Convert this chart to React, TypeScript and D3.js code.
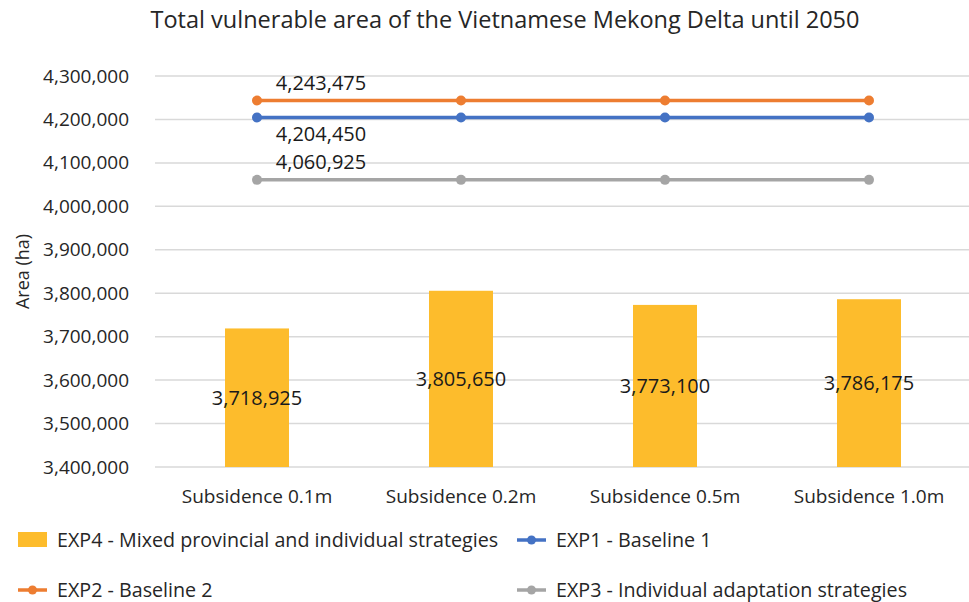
import React, { useEffect, useRef } from "react";
import * as d3 from "d3";

// chart data
const categories = ["Subsidence 0.1m", "Subsidence 0.2m", "Subsidence 0.5m", "Subsidence 1.0m"];
const exp4Values = [3718925, 3805650, 3773100, 3786175];
const exp1Values = [4204450, 4204450, 4204450, 4204450];
const exp2Values = [4243475, 4243475, 4243475, 4243475];
const exp3Values = [4060925, 4060925, 4060925, 4060925];
const yTicks = [3400000, 3500000, 3600000, 3700000, 3800000, 3900000, 4000000, 4100000, 4200000, 4300000];

const FONT = "'Open Sans', Lato, sans-serif";

export default function App() {
  const ref = useRef<SVGSVGElement>(null);

  useEffect(() => {
    const svg = d3.select(ref.current);
    svg.selectAll("*").remove();

    const width = 969;
    const left = 155, right = 971, top = 76, bottom = 467;

    const x = d3.scaleBand().domain(categories).range([left, right]);
    const y = d3.scaleLinear().domain([3400000, 4300000]).range([bottom, top]);
    const fmt = d3.format(",");

    // title
    svg.append("text")
      .attr("x", 505).attr("y", 28)
      .attr("text-anchor", "middle")
      .style("font-family", FONT).style("font-size", "23.5px").attr("fill", "#262626")
      .text("Total vulnerable area of the Vietnamese Mekong Delta until 2050");

    // gridlines
    svg.append("g").selectAll("line").data(yTicks).enter().append("line")
      .attr("x1", left).attr("x2", width)
      .attr("y1", d => y(d)).attr("y2", d => y(d))
      .attr("stroke", "#d9d9d9").attr("stroke-width", 1.5);

    // y tick labels
    svg.append("g").selectAll("text").data(yTicks).enter().append("text")
      .attr("x", 129).attr("y", d => y(d) + 6.5)
      .attr("text-anchor", "end")
      .style("font-family", FONT).style("font-size", "19px").attr("fill", "#262626")
      .text(d => fmt(d));

    // y axis title
    svg.append("text")
      .attr("transform", `translate(29,${(top + bottom) / 2}) rotate(-90)`)
      .attr("text-anchor", "middle")
      .style("font-family", FONT).style("font-size", "18px").attr("fill", "#262626")
      .text("Area (ha)");

    // x labels
    svg.append("g").selectAll("text").data(categories).enter().append("text")
      .attr("x", d => x(d)! + x.bandwidth() / 2).attr("y", 503)
      .attr("text-anchor", "middle")
      .style("font-family", FONT).style("font-size", "19px").attr("fill", "#262626")
      .text(d => d);

    // bars
    const barW = 64;
    const bars = svg.append("g");
    bars.selectAll("rect").data(exp4Values).enter().append("rect")
      .attr("x", (d, i) => x(categories[i])! + x.bandwidth() / 2 - barW / 2)
      .attr("width", barW)
      .attr("y", d => y(d))
      .attr("height", d => bottom - y(d))
      .attr("fill", "#FDBC2C");
    bars.selectAll("text").data(exp4Values).enter().append("text")
      .attr("x", (d, i) => x(categories[i])! + x.bandwidth() / 2)
      .attr("y", d => (y(d) + bottom) / 2 + 7)
      .attr("text-anchor", "middle")
      .style("font-family", FONT).style("font-size", "20px").attr("fill", "#1a1a1a")
      .text(d => fmt(d));

    // lines
    const series = [
      { values: exp3Values, color: "#A5A5A5", labelDy: -11 },
      { values: exp1Values, color: "#4472C4", labelDy: 23 },
      { values: exp2Values, color: "#ED7D31", labelDy: -11 },
    ];
    const line = d3.line<number>()
      .x((d, i) => x(categories[i])! + x.bandwidth() / 2)
      .y(d => y(d));
    series.forEach(s => {
      const g = svg.append("g");
      g.append("path").datum(s.values).attr("d", line)
        .attr("fill", "none").attr("stroke", s.color).attr("stroke-width", 3.5);
      g.selectAll("circle").data(s.values).enter().append("circle")
        .attr("cx", (d, i) => x(categories[i])! + x.bandwidth() / 2)
        .attr("cy", d => y(d)).attr("r", 5)
        .attr("fill", s.color);
      g.append("text")
        .attr("x", x(categories[0])! + x.bandwidth() / 2 + 64)
        .attr("y", y(s.values[0]) + s.labelDy)
        .attr("text-anchor", "middle")
        .style("font-family", FONT).style("font-size", "20px").attr("fill", "#1a1a1a")
        .text(fmt(s.values[0]));
    });

    // legend
    const legend = [
      { label: "EXP4 - Mixed provincial and individual strategies", color: "#FDBC2C", bar: true, lx: 18, ly: 540 },
      { label: "EXP1 - Baseline 1", color: "#4472C4", bar: false, lx: 517, ly: 540 },
      { label: "EXP2 - Baseline 2", color: "#ED7D31", bar: false, lx: 18, ly: 590 },
      { label: "EXP3 - Individual adaptation strategies", color: "#A5A5A5", bar: false, lx: 517, ly: 590 },
    ];
    const lg = svg.append("g");
    legend.forEach(l => {
      if (l.bar) {
        lg.append("rect").attr("x", l.lx).attr("y", l.ly - 8).attr("width", 29).attr("height", 15).attr("fill", l.color);
      } else {
        lg.append("line").attr("x1", l.lx).attr("x2", l.lx + 29).attr("y1", l.ly).attr("y2", l.ly)
          .attr("stroke", l.color).attr("stroke-width", 3.5);
        lg.append("circle").attr("cx", l.lx + 14.5).attr("cy", l.ly).attr("r", 4.5).attr("fill", l.color);
      }
      lg.append("text").attr("x", l.lx + 39).attr("y", l.ly + 6.5)
        .style("font-family", FONT).style("font-size", "19.7px").attr("fill", "#262626")
        .text(l.label);
    });
  }, []);

  return (
    <svg ref={ref} width={969} height={602}
      style={{ position: "absolute", left: 0, top: 0, background: "#fff" }} />
  );
}
